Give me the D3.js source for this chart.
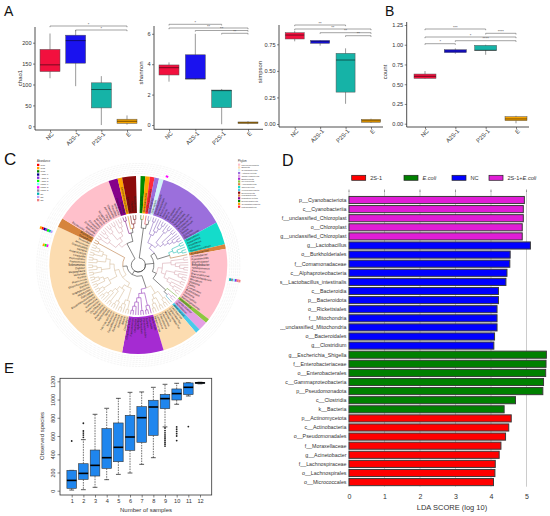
<!DOCTYPE html>
<html><head><meta charset="utf-8">
<script src="https://cdn.jsdelivr.net/npm/d3@7"></script>
<style>body{margin:0;background:#fff}svg{display:block;font-family:"Liberation Sans",Arial,sans-serif}</style>
</head><body><svg id="c" width="550" height="516"></svg>
<script>
// ---------- DATA ----------
const groups = ["NC","A2S-1","P2S-1","E"];
const groupColors = ["#f2103e","#1a12ef","#16b3a7","#f7a400"];
// [min, q1, median, q3, max]
const chao1Stats = [[115,131,147,184,222],[96,151,205,218,230],[3,44,88,104,120],[4,7,12,17,26]];
const shannonStats = [[2.85,3.29,3.77,3.95,4.12],[3.0,3.03,3.03,4.62,6.0],[0.05,1.14,2.26,2.3,2.37],[0.05,0.1,0.15,0.2,0.25]];
const simpsonStats = [[0.778,0.80,0.837,0.859,0.877],[0.737,0.759,0.774,0.787,0.79],[0.19,0.30,0.602,0.665,0.712],[0.01,0.016,0.03,0.044,0.05]];
const countStats = [[0.57,0.574,0.60,0.629,0.667],[0.886,0.90,0.92,0.937,0.954],[0.873,0.929,0.93,0.992,1.0],[0.005,0.038,0.06,0.089,0.10]];
const chao1Sig = [[0,3,"*"],[1,3,"*"]];
const shannonSig = [[0,2,"*"],[0,3,"**"],[1,3,"**"],[2,3,"**"]];
const simpsonSig = [[0,2,"**"],[0,3,"**"],[1,3,"**"],[2,3,"**"]];
const countSig = [[0,2,"***"],[2,3,"****"],[0,3,"*"],[1,3,"****"],[0,1,"*"]];
const chao1Ticks = [0,50,100,150,200];
const shannonTicks = [0,2,4,6];
const simpsonTicks = [0,0.25,0.5,0.75];
const countTicks = [0,0.25,0.5,0.75,1.0,1.25];

// Panel C
const samples = ["NC1","NC2","NC3","A2S1-1","A2S1-2","A2S1-3","P2S1-1","P2S1-2","P2S1-3","E1","E2","E3"];
const sampleColors = ["#ff0000","#ffa500","#008000","#00008b","#8a2be2","#00ff00","#7fffff","#ff00ff","#8c7fa0","#00b3b3","#b9a0ff","#f08080"];
const phyla = ["Pseudomonadota","Bacillota","Cyanobacteriota","Actinomycetota","Campylobacterota","Bacteroidota","Myxococcota","Acidobacteriota","Chloroflexota","Verrucomicrobiota","Deinococcota","Fusobacteriota","Planctomycetota","Desulfobacterota","Gemmatimonadota","Patescibacteria"];
const phylumColors = ["#ffc0cb","#fcdcb0","#d2f3f8","#9b6fdc","#e4a0e4","#a52bd2","#8dc63f","#d6843c","#14dccb","#49c9ea","#8b0a0a","#e07a3c","#87008a","#008a00","#ffa500","#ff2a3a"];
const sectorPhylum = [13,14,15,3,2,3,8,7,0,6,4,9,1,5,1,7,0,12,14,10];
const sectorLeaves = [
 ["Desulfovibrio"],["Gemmatimonas"],["Saccharimonadales"],["Rubrobacter"],["Chloroplast"],
 ["Corynebacterium","Brevibacterium","Micrococcus","Kocuria","Rothia","Arthrobacter","Microbacterium","Streptomyces","Nocardioides","Mycobacterium","Bifidobacterium","Cutibacterium","Dietzia","Gordonia","Rhodococcus"],
 ["Chloroflexus","Anaerolinea","Roseiflexus","Caldilinea","Thermomicrobium"],
 ["Acidobacterium"],
 ["Acinetobacter","Pseudomonas","Psychrobacter","Enhydrobacter","Sphingomonas","Paracoccus","Brevundimonas","Methylobacterium","Rhizobium","Ralstonia","Delftia","Comamonas","Burkholderia","Neisseria","Haemophilus","Stenotrophomonas"],
 ["Myxococcus"],["Campylobacter","Helicobacter"],["Akkermansia"],
 ["Lactobacillus","Ligilactobacillus","Limosilactobacillus","Weissella","Leuconostoc","Enterococcus","Lactococcus","Streptococcus"],
 ["Bacteroides","Prevotella","Alistipes","Parabacteroides","Muribaculum","Rikenella","Odoribacter","Flavobacterium","Chryseobacterium"],
 ["Clostridium","Blautia","Roseburia","Ruminococcus","Faecalibacterium","Eubacterium","Lachnoclostridium","Dorea","Coprococcus","Anaerostipes","Butyrivibrio","Oscillibacter","Intestinimonas","Romboutsia","Turicibacter","Erysipelatoclostridium","Dubosiella","Allobaculum","Staphylococcus","Bacillus","Exiguobacterium","Planococcus","Kurthia","Veillonella","Megasphaera","Dialister","Selenomonas","Peptococcus","Peptoniphilus","Finegoldia","Anaerococcus","Gemella","Granulicatella","Aerococcus","Tissierella"],
 ["Terriglobus","Bryobacter"],
 ["Escherichia_Shigella","Klebsiella","Enterobacter","Citrobacter","Proteus","Serratia","Pantoea","Morganella","Vibrio","Aeromonas","Shewanella","Rickettsia","Wolbachia"],
 ["Planctomyces","Gemmata"],["Gemmatimonadaceae"],["Deinococcus","Thermus","Meiothermus"]
];
const cladeTopology = [[[0,1],[2,[3,4]]],[[5,[6,7]],[8,[9,[10,11]]]],[[12,13],[14,15]],[16,[17,[18,19]]]];
// [leaf index, sample indices of the abundance cells]
const heatStrips = [[96,[10,9,5,4,3,0,1]],[93,[7,5,1]],[32,[9,8,6,4,11,11]],[5,[7]]];

// Panel D
const ldaFeatures = ["p__Cyanobacteriota","c__Cyanobacteriia","f__unclassified_Chloroplast","o__Chloroplast","g__unclassified_Chloroplast",
 "g__Lactobacillus","o__Burkholderiales","f__Comamonadaceae","c__Alphaproteobacteria","s__Lactobacillus_intestinalis","c__Bacteroidia","p__Bacteroidota","o__Rickettsiales","f__Mitochondria","g__unclassified_Mitochondria","o__Bacteroidales","g__Clostridium",
 "g__Escherichia_Shigella","f__Enterobacteriaceae","o__Enterobacterales","c__Gammaproteobacteria","p__Pseudomonadota","c__Clostridia","k__Bacteria",
 "p__Actinomycetota","c__Actinobacteria","o__Pseudomonadales","f__Moraxellaceae","g__Acinetobacter","f__Lachnospiraceae","o__Lachnospirales","o__Micrococcales"];
const ldaScores = [4.94,4.91,4.91,4.88,4.88,
 5.11,4.54,4.53,4.45,4.42,4.21,4.21,4.17,4.17,4.17,4.10,4.08,
 5.56,5.55,5.54,5.48,5.46,4.69,4.37,
 4.57,4.50,4.41,4.28,4.23,4.12,4.11,4.07];
const ldaGroupOf = [3,3,3,3,3, 2,2,2,2,2,2,2,2,2,2,2,2, 1,1,1,1,1,1,1, 0,0,0,0,0,0,0,0];
const ldaGroups = ["2S-1","E.coli","NC","2S-1+E.coli"];
const ldaColors = ["#ff0000","#008000","#0000ff","#e01ed6"];
const ldaTicks = [0,1,2,3,4,5];

// Panel E
const eSamples = [1,2,3,4,5,6,7,8,9,10,11,12];
const eStats = [[7,26,113,223,223],[11,124,190,296,560],[37,161,278,446,838],[121,245,362,681,904],[179,318,476,743,1013],[194,443,589,827,1079],[289,531,801,922,1083],[362,607,918,992,1134],[700,900,1010,1057,1167],[948,995,1065,1116,1178],[1039,1054,1134,1182,1185],[1172,1178,1183,1187,1190]];
const eOutliers = [[545],[585,610,632,655,740],[],[],[],[],[],[],[490,510,530,550,570,590,612,635,660,688],[550,600,625,650,675,700],[703],[]];
const eYTicks = [0,200,400,600,800,1000,1200];

// ---------- DRAW ----------
const svg = d3.select("#c");
svg.append("rect").attr("width",550).attr("height",516).attr("fill","#fff");
function letter(t,x,y,s){svg.append("text").attr("x",x).attr("y",y).attr("font-size",s).attr("fill","#111").text(t);}
letter("A",4,16,14); letter("B",385,16,14); letter("C",4,165,17); letter("D",282,166,16); letter("E",4,373,15);

function boxPanel(c){
  const g = svg.append("g");
  const y = d3.scaleLinear().domain(c.domain).range(c.range);
  const x = d3.scalePoint().domain(groups).range(c.xr);
  g.append("line").attr("x1",c.x0).attr("x2",c.x0).attr("y1",c.top).attr("y2",c.axisY).attr("stroke","#222").attr("stroke-width",0.8);
  g.append("line").attr("x1",c.x0).attr("x2",c.x1).attr("y1",c.axisY).attr("y2",c.axisY).attr("stroke","#222").attr("stroke-width",0.8);
  const ya = g.append("g").attr("transform",`translate(${c.x0},0)`).call(d3.axisLeft(y).tickValues(c.ticks).tickSize(2).tickPadding(1.5).tickFormat(c.fmt));
  ya.select(".domain").remove();
  ya.selectAll("text").attr("font-size",5.6).attr("fill","#333");
  ya.selectAll("line").attr("stroke","#333").attr("stroke-width",0.6);
  const xa = g.append("g").attr("transform",`translate(0,${c.axisY})`).call(d3.axisBottom(x).tickSize(2).tickPadding(1));
  xa.select(".domain").remove();
  xa.selectAll("line").attr("stroke","#333").attr("stroke-width",0.6);
  xa.selectAll("text").attr("font-size",5.8).attr("fill","#333").attr("text-anchor","end")
    .attr("transform","rotate(-45)").attr("dx","-0.1em").attr("dy","0.5em");
  g.append("text").attr("transform",`translate(${c.titleX},${c.titleY}) rotate(-90)`).attr("text-anchor","middle")
    .attr("font-size",6).attr("fill","#333").text(c.title);
  c.stats.forEach((s,i)=>{
    const cx = x(groups[i]);
    g.append("line").attr("x1",cx).attr("x2",cx).attr("y1",y(s[0])).attr("y2",y(s[4])).attr("stroke","#555").attr("stroke-width",0.6);
    g.append("rect").attr("x",cx-c.bw/2).attr("width",c.bw).attr("y",y(s[3])).attr("height",Math.max(0.8,y(s[1])-y(s[3])))
      .attr("fill",groupColors[i]).attr("stroke","#555").attr("stroke-width",0.5);
    g.append("line").attr("x1",cx-c.bw/2).attr("x2",cx+c.bw/2).attr("y1",y(s[2])).attr("y2",y(s[2]))
      .attr("stroke","rgba(0,0,0,0.5)").attr("stroke-width",1);
  });
  c.sig.forEach((s,k)=>{
    const yy = c.sigY[k], xa0 = x(groups[s[0]]), xb = x(groups[s[1]]);
    g.append("path").attr("d",`M${xa0},${yy+1.2}V${yy}H${xb}V${yy+1.2}`).attr("fill","none").attr("stroke","#666").attr("stroke-width",0.6);
    g.append("text").attr("x",(xa0+xb)/2).attr("y",yy-0.4).attr("text-anchor","middle").attr("font-size",4).attr("fill","#444").text(s[2]);
  });
}
boxPanel({stats:chao1Stats,sig:chao1Sig,sigY:[26,30],ticks:chao1Ticks,fmt:d3.format("d"),domain:[0,200],range:[126.3,42.7],x0:35,x1:142,top:27,axisY:130,xr:[50,127],bw:20,title:"chao1",titleX:22,titleY:78});
boxPanel({stats:shannonStats,sig:shannonSig,sigY:[24.3,28,30.5,33.3],ticks:shannonTicks,fmt:d3.format("d"),domain:[0,6],range:[125,33.8],x0:154,x1:263,top:26,axisY:129.3,xr:[169,248],bw:20,title:"shannon",titleX:143,titleY:73});
boxPanel({stats:simpsonStats,sig:simpsonSig,sigY:[25,29,32.7,35.7],ticks:simpsonTicks,fmt:d3.format(".2f"),domain:[0,0.75],range:[124,44.3],x0:279,x1:383,top:25,axisY:127,xr:[294.7,371],bw:19,title:"simpson",titleX:262,titleY:72});
boxPanel({stats:countStats,sig:countSig,sigY:[29,33.3,37,40.7,43.7],ticks:countTicks,fmt:d3.format(".2f"),domain:[0,1.25],range:[123.7,25],x0:406.7,x1:529,top:22,axisY:127,xr:[425,516],bw:22,title:"count",titleX:387,titleY:72});

// ---------- Panel C ----------
(function(){
  const cx=138.3, cy=265, R0=7, R1=50, rin=52, rout=89;
  const g = svg.append("g");
  function splitLeaves(names,s,top){
    if(names.length===1) return {name:names[0],sec:s};
    const k=Math.max(1,Math.floor(names.length*0.4));
    return {sec:s,top:top,children:[splitLeaves(names.slice(0,k),s,false),splitLeaves(names.slice(k),s,false)]};
  }
  function build(t){ return Array.isArray(t)?{children:t.map(build)}:splitLeaves(sectorLeaves[t],t,true); }
  const root = d3.hierarchy(build(cladeTopology));
  const span = 357*Math.PI/180, off = 1.5*Math.PI/180;
  d3.cluster().size([span,1]).separation(()=>1)(root);
  const leaves = root.leaves();
  const step = span/(leaves.length-1);
  const rad = v=>R0+v*(R1-R0);
  const pol=(a,r)=>[cx+r*Math.sin(a), cy-r*Math.cos(a)];
  // dotted rings
  [91.5,93.5,95.5,97.5,99.5,101.5].forEach(r=>g.append("circle").attr("cx",cx).attr("cy",cy).attr("r",r)
    .attr("fill","none").attr("stroke","#cfcfcf").attr("stroke-width",0.35).attr("stroke-dasharray","0.6,0.9"));
  // wedges
  const arc = d3.arc().innerRadius(rin).outerRadius(rout);
  sectorLeaves.forEach((names,s)=>{
    const ls = leaves.filter(l=>l.data.sec===s);
    const a0 = d3.min(ls,l=>l.x)+off-step/2, a1 = d3.max(ls,l=>l.x)+off+step/2;
    g.append("path").attr("transform",`translate(${cx},${cy})`).attr("d",arc({startAngle:a0,endAngle:a1}))
      .attr("fill",phylumColors[sectorPhylum[s]]);
  });
  // links
  root.links().forEach(({source:p,target:c})=>{
    const pa=p.x+off, ca=c.x+off, pr=rad(p.y), cr=rad(c.y);
    const [x0,y0]=pol(pa,pr),[x1,y1]=pol(ca,pr),[x2,y2]=pol(ca,cr);
    const sweep = ca>pa?1:0, large=Math.abs(ca-pa)>Math.PI?1:0;
    const col = c.data.sec!==undefined ? d3.color(phylumColors[sectorPhylum[c.data.sec]]).darker(0.5).formatHex() : "#222";
    g.append("path").attr("d",`M${x0},${y0}A${pr},${pr} 0 ${large} ${sweep} ${x1},${y1}L${x2},${y2}`)
      .attr("fill","none").attr("stroke",col).attr("stroke-width",0.55);
  });
  // leaf labels
  leaves.forEach(l=>{
    const a=l.x+off, [px,py]=pol(a,rin+1.5);
    let deg=a*180/Math.PI-90, anchor="start";
    if(a>Math.PI){deg+=180; anchor="end";}
    g.append("text").attr("transform",`translate(${px},${py}) rotate(${deg})`).attr("text-anchor",anchor)
      .attr("dy","0.35em").attr("font-size",2.7).attr("fill","#222").text(l.data.name);
  });
  // abundance strips
  heatStrips.forEach(([li,cells])=>{
    const a=leaves[li].x+off;
    cells.forEach((sIdx,k)=>{
      const [px,py]=pol(a,92+k*1.9);
      g.append("rect").attr("transform",`translate(${px},${py}) rotate(${a*180/Math.PI-90})`)
        .attr("x",0).attr("y",-1.3).attr("width",1.9).attr("height",2.6).attr("fill",sampleColors[sIdx]);
    });
  });
  // legends
  g.append("text").attr("x",37).attr("y",162).attr("font-size",2.6).attr("fill","#333").text("Abundance");
  samples.forEach((s,i)=>{
    g.append("rect").attr("x",37).attr("y",163.8+i*3.2).attr("width",2.3).attr("height",2.3).attr("fill",sampleColors[i]);
    g.append("text").attr("x",40.5).attr("y",165.8+i*3.2).attr("font-size",2.3).attr("fill","#444").text(s);
  });
  g.append("text").attr("x",238).attr("y",162).attr("font-size",2.6).attr("fill","#333").text("Phylum");
  phyla.forEach((p,i)=>{
    g.append("rect").attr("x",238).attr("y",163.6+i*2.8).attr("width",2.2).attr("height",2.2).attr("fill",phylumColors[i]);
    g.append("text").attr("x",241.5).attr("y",165.5+i*2.8).attr("font-size",2.2).attr("fill","#444").text(p);
  });
})();

// ---------- Panel D ----------
(function(){
  const g = svg.append("g");
  svg.append("clipPath").attr("id","dclip").append("rect").attr("x",280).attr("y",140).attr("width",270).attr("height",376);
  const x = d3.scaleLinear().domain([0,5]).range([349,526.5]);
  const y = d3.scaleBand().domain(ldaFeatures).range([195.45,486.65]).paddingInner(0.22).paddingOuter(0.11);
  // legend
  const lx=[351.7,404,452,489];
  ldaGroups.forEach((n,i)=>{
    g.append("rect").attr("x",lx[i]).attr("y",175.3).attr("width",14).attr("height",5).attr("fill",ldaColors[i]).attr("stroke","#222").attr("stroke-width",0.7);
    const t=g.append("text").attr("x",lx[i]+18.5).attr("y",179.8).attr("font-size",5.6).attr("fill","#333");
    if(n==="E.coli") t.append("tspan").attr("font-style","italic").text("E.coli");
    else if(n==="2S-1+E.coli"){ t.append("tspan").text("2S-1+"); t.append("tspan").attr("font-style","italic").text("E.coli"); }
    else t.text(n);
  });
  ldaTicks.forEach(v=>g.append("line").attr("x1",x(v)).attr("x2",x(v)).attr("y1",190.7).attr("y2",486.7).attr("stroke","#aaa").attr("stroke-width",0.6));
  ldaTicks.forEach(v=>g.append("line").attr("x1",x(v)).attr("x2",x(v)).attr("y1",189.5).attr("y2",192).attr("stroke","#666").attr("stroke-width",0.6));
  g.selectAll("rect.bar").data(ldaFeatures).join("rect").attr("class","bar")
    .attr("x",x(0)).attr("y",d=>y(d)).attr("height",y.bandwidth()).attr("width",(d,i)=>x(ldaScores[i])-x(0))
    .attr("fill",(d,i)=>ldaColors[ldaGroupOf[i]]).attr("stroke","#3a3a3a").attr("stroke-width",1);
  g.append("g").attr("clip-path","url(#dclip)").selectAll("text").data(ldaFeatures).join("text")
    .attr("x",346.5).attr("y",d=>y(d)+y.bandwidth()/2).attr("dy","0.35em").attr("text-anchor","end")
    .attr("font-size",5.3).attr("fill","#333").text(d=>d);
  const xa = g.append("g").attr("transform","translate(0,486.7)").call(d3.axisBottom(x).tickValues(ldaTicks).tickSize(0).tickPadding(7).tickFormat(d3.format("d")));
  xa.select(".domain").remove();
  xa.selectAll("text").attr("font-size",7).attr("fill","#333");
  g.append("text").attr("x",452).attr("y",509.5).attr("text-anchor","middle").attr("font-size",7.5).attr("fill","#333").text("LDA SCORE (log 10)");
})();

// ---------- Panel E ----------
(function(){
  const g = svg.append("g");
  const x = d3.scaleLinear().domain([1,12]).range([71.7,200]);
  const y = d3.scaleLinear().domain([0,1200]).range([490.7,381.3]);
  const bw=9.6;
  eStats.forEach((s,i)=>{
    const cx=x(eSamples[i]);
    g.append("line").attr("x1",cx).attr("x2",cx).attr("y1",y(s[3])).attr("y2",y(s[4])).attr("stroke","#111").attr("stroke-width",0.6).attr("stroke-dasharray","1.6,1");
    g.append("line").attr("x1",cx).attr("x2",cx).attr("y1",y(s[1])).attr("y2",y(s[0])).attr("stroke","#111").attr("stroke-width",0.6).attr("stroke-dasharray","1.6,1");
    [s[0],s[4]].forEach(v=>g.append("line").attr("x1",cx-bw/4).attr("x2",cx+bw/4).attr("y1",y(v)).attr("y2",y(v)).attr("stroke","#111").attr("stroke-width",0.7));
    g.append("rect").attr("x",cx-bw/2).attr("width",bw).attr("y",y(s[3])).attr("height",Math.max(0.8,y(s[1])-y(s[3])))
      .attr("fill","#1f86ee").attr("stroke","#333").attr("stroke-width",0.6);
    g.append("line").attr("x1",cx-bw/2).attr("x2",cx+bw/2).attr("y1",y(s[2])).attr("y2",y(s[2])).attr("stroke","#000").attr("stroke-width",1.6);
    eOutliers[i].forEach(v=>g.append("circle").attr("cx",cx).attr("cy",y(v)).attr("r",0.9).attr("fill","#222"));
  });
  g.append("rect").attr("x",60).attr("y",378.3).attr("width",151.7).attr("height",116.7).attr("fill","none").attr("stroke","#333").attr("stroke-width",0.8);
  const ya = g.append("g").attr("transform","translate(60,0)").call(d3.axisLeft(y).tickValues(eYTicks).tickSize(2.5).tickFormat(d3.format("d")));
  ya.select(".domain").remove();
  ya.selectAll("line").attr("stroke","#333").attr("stroke-width",0.6);
  ya.selectAll("text").attr("x",0).attr("dy",0).attr("text-anchor","middle").attr("transform","translate(-5,0) rotate(-90)")
    .attr("font-size",5.4).attr("fill","#333");
  const xa = g.append("g").attr("transform","translate(0,495)").call(d3.axisBottom(x).tickValues(eSamples).tickSize(2.5).tickPadding(1.5).tickFormat(d3.format("d")));
  xa.select(".domain").remove();
  xa.selectAll("line").attr("stroke","#333").attr("stroke-width",0.6);
  xa.selectAll("text").attr("font-size",5.6).attr("fill","#333");
  g.append("text").attr("x",146).attr("y",512).attr("text-anchor","middle").attr("font-size",6).attr("fill","#333").text("Number of samples");
  g.append("text").attr("transform","translate(43.5,436) rotate(-90)").attr("text-anchor","middle").attr("font-size",6).attr("fill","#333").text("Observed species");
})();
</script></body></html>
